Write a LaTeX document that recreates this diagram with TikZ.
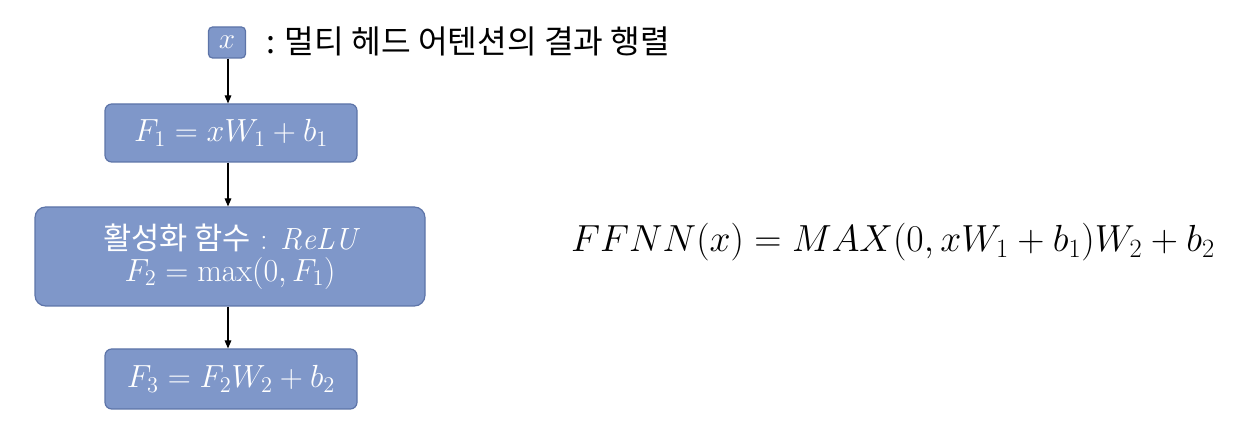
\RequirePackage{fix-cm}
\documentclass[tikz,border=0pt]{standalone}
\usepackage{fontspec}
\newfontfamily\kr{Noto Sans CJK KR}
\usetikzlibrary{arrows.meta}
\definecolor{boxfill}{HTML}{7F97C9}
\definecolor{boxdraw}{HTML}{5D74A8}
\tikzset{
  blk/.style={draw=boxdraw, fill=boxfill, line width=0.9pt, rounded corners=5pt, text=white, inner sep=0pt, align=center},
  conn/.style={draw=black, line width=0.8pt, -{Triangle[length=6pt,width=5pt]}}
}
\begin{document}
\begin{tikzpicture}[x=0.75pt,y=-0.75pt]
\useasboundingbox (0,0) rectangle (1258,423);
\node[blk, rounded corners=3pt, minimum width=27.75pt, minimum height=23.25pt] (x) at (227,42.5) {\fontsize{22}{24}\selectfont $x$};
\node[anchor=west, inner sep=0pt] (lbl) at (266,41) {\kr\fontsize{24.2}{28}\selectfont : 멀티 헤드 어텐션의 결과 행렬};
\node[blk, minimum width=189pt, minimum height=43.5pt] (f1) at (231,133) {\fontsize{24}{26}\selectfont $F_1 = xW_1 + b_1$};
\node[blk, rounded corners=8pt, minimum width=292.5pt, minimum height=74.25pt] (f2) at (230,256.5) {\fontsize{23}{28}\selectfont {\kr 활성화 함수} : $\mathit{ReLU}$\\[3pt]\fontsize{24}{26}\selectfont $F_2 = \max(0, F_1)$};
\node[blk, minimum width=189pt, minimum height=45pt] (f3) at (231,379) {\fontsize{24}{26}\selectfont $F_3 = F_2W_2 + b_2$};
\draw[conn] (x.south -| 228,0) -- (f1.north -| 228,0);
\draw[conn] (f1.south -| 228,0) -- (f2.north -| 228,0);
\draw[conn] (f2.south -| 228,0) -- (f3.north -| 228,0);
\node[inner sep=0pt] (eq) at (893,242) {\fontsize{28.3}{34}\selectfont $FFNN(x) = MAX(0, xW_1 + b_1)W_2 + b_2$};
\end{tikzpicture}
\end{document}
